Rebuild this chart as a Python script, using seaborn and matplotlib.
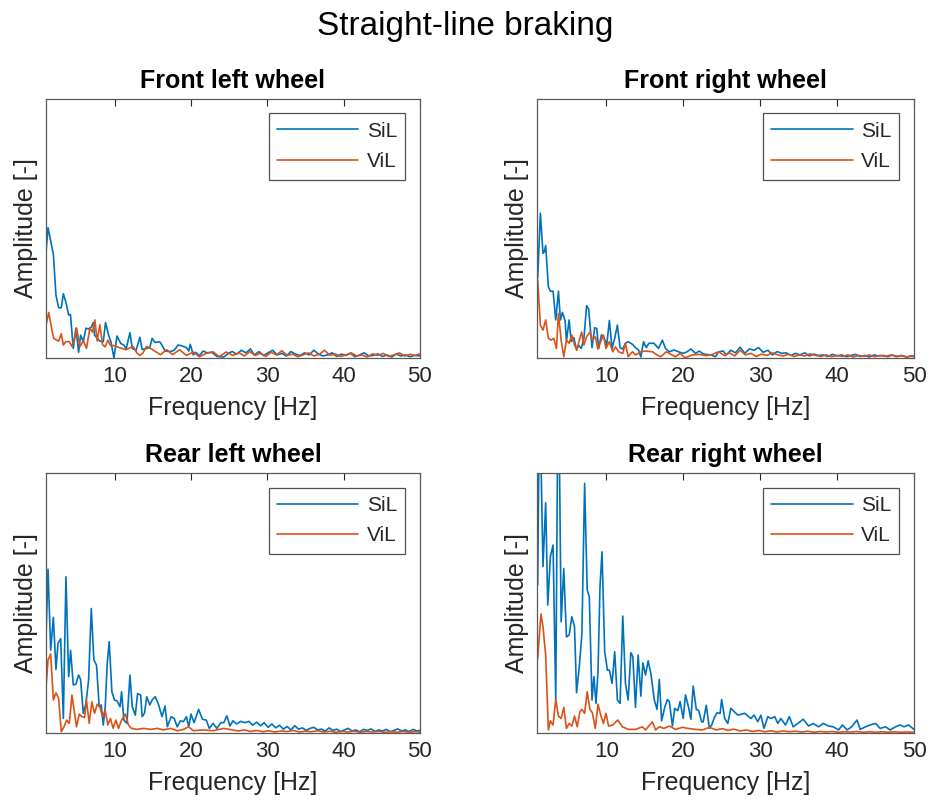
import numpy as np
import pandas as pd
import matplotlib
matplotlib.use("Agg")
import matplotlib.pyplot as plt
import seaborn as sns

# Amplitude spectra, (frequency [Hz], amplitude [-]) pairs
fl_sil = [(1.0, 0.41), (1.26, 0.503), (1.96, 0.40), (2.3, 0.243), (2.65, 0.194), (3.0, 0.194),
          (3.27, 0.248), (3.61, 0.215), (3.96, 0.166), (4.2, 0.168), (4.57, 0.037), (4.92, 0.115),
          (5.27, 0.022), (5.53, 0.088), (5.88, 0.063), (6.23, 0.115), (6.58, 0.112), (6.93, 0.119),
          (7.19, 0.137), (7.36, 0.088), (8.06, 0.065), (8.5, 0.063), (8.8, 0.137), (9.2, 0.088),
          (9.5, 0.063), (9.9, 0.0), (10.3, 0.085), (10.8, 0.056), (11.2, 0.05), (11.5, 0.035),
          (12.0, 0.098), (12.3, 0.037), (12.8, 0.03), (13.3, 0.08), (13.6, 0.033), (14.2, 0.037),
          (14.6, 0.04), (14.9, 0.076), (15.3, 0.06), (15.9, 0.063), (16.25, 0.047), (16.6, 0.027),
          (17.3, 0.025), (17.8, 0.03), (18.3, 0.05), (18.8, 0.047), (19.4, 0.04), (19.7, 0.027),
          (19.9, 0.053), (20.3, 0.012), (20.6, 0.022), (21.1, 0.009), (21.6, 0.027), (22.1, 0.02),
          (22.7, 0.022), (23.4, 0.006), (24.3, 0.004), (25.0, 0.02), (25.4, 0.025), (26.0, 0.015),
          (26.6, 0.03), (27.2, 0.02), (27.8, 0.035), (28.3, 0.012), (28.9, 0.025), (29.5, 0.01),
          (30.1, 0.02), (30.7, 0.03), (31.3, 0.012), (31.9, 0.018), (32.5, 0.008), (33.1, 0.025),
          (33.7, 0.015), (34.3, 0.01), (34.9, 0.02), (35.5, 0.012), (36.1, 0.03), (36.7, 0.015),
          (37.3, 0.008), (37.9, 0.012), (38.5, 0.02), (39.1, 0.006), (39.7, 0.015), (40.3, 0.01),
          (40.9, 0.018), (41.5, 0.005), (42.1, 0.012), (42.7, 0.02), (43.3, 0.008), (43.9, 0.01),
          (44.5, 0.016), (45.1, 0.006), (45.7, 0.012), (46.3, 0.004), (46.9, 0.015), (47.5, 0.008),
          (48.1, 0.012), (48.7, 0.005), (49.3, 0.01), (50.0, 0.008)]
fl_vil = [(1.0, 0.127), (1.35, 0.176), (1.8, 0.104), (2.0, 0.076), (2.65, 0.065), (3.0, 0.094),
          (3.27, 0.05), (3.6, 0.063), (4.05, 0.063), (4.4, 0.045), (4.7, 0.07), (5.0, 0.116),
          (5.44, 0.044), (5.9, 0.067), (6.3, 0.037), (6.75, 0.116), (7.1, 0.1), (7.4, 0.147),
          (7.7, 0.066), (8.06, 0.128), (8.4, 0.052), (8.75, 0.043), (9.1, 0.069), (9.45, 0.048),
          (9.9, 0.048), (10.7, 0.039), (11.5, 0.032), (12.4, 0.045), (12.9, 0.02), (13.3, 0.01),
          (13.7, 0.02), (14.2, 0.045), (14.6, 0.039), (15.3, 0.026), (16.0, 0.013), (16.8, 0.032),
          (17.6, 0.013), (18.5, 0.032), (19.4, 0.01), (20.3, 0.023), (21.1, 0.005), (22.0, 0.018),
          (22.9, 0.024), (23.7, 0.005), (24.6, 0.023), (25.5, 0.01), (26.3, 0.02), (27.0, 0.008),
          (27.7, 0.025), (28.4, 0.01), (29.1, 0.018), (29.8, 0.006), (30.5, 0.022), (31.2, 0.012),
          (31.9, 0.028), (32.6, 0.01), (33.3, 0.015), (34.0, 0.005), (34.7, 0.012), (35.4, 0.02),
          (36.1, 0.008), (36.8, 0.014), (37.5, 0.03), (38.2, 0.01), (38.9, 0.016), (39.6, 0.006),
          (40.3, 0.012), (41.0, 0.02), (41.7, 0.008), (42.4, 0.012), (43.1, 0.004), (43.8, 0.016),
          (44.5, 0.01), (45.2, 0.018), (45.9, 0.006), (46.6, 0.012), (47.3, 0.02), (48.0, 0.008),
          (48.7, 0.014), (49.4, 0.01), (50.0, 0.016)]

fr_sil = [(1.09, 0.308), (1.44, 0.559), (1.78, 0.404), (1.96, 0.41), (2.13, 0.434), (2.48, 0.275),
          (2.74, 0.258), (3.09, 0.258), (3.44, 0.147), (3.79, 0.258), (4.05, 0.147), (4.31, 0.176),
          (4.66, 0.143), (4.83, 0.066), (5.18, 0.147), (5.44, 0.063), (5.79, 0.079), (6.14, 0.031),
          (6.4, 0.05), (6.75, 0.037), (7.1, 0.076), (7.45, 0.202), (7.71, 0.19), (8.15, 0.04),
          (8.5, 0.117), (8.76, 0.114), (9.02, 0.037), (9.37, 0.089), (9.71, 0.079), (10.06, 0.05),
          (10.41, 0.145), (10.76, 0.037), (11.1, 0.076), (11.45, 0.127), (11.8, 0.04), (12.15, 0.035),
          (12.5, 0.057), (12.85, 0.063), (13.4, 0.053), (13.8, 0.04), (14.2, 0.031), (14.5, 0.004),
          (14.85, 0.063), (15.2, 0.04), (15.55, 0.057), (16.2, 0.057), (16.8, 0.037), (17.3, 0.069),
          (17.7, 0.037), (18.2, 0.024), (18.8, 0.031), (19.4, 0.024), (20.0, 0.018), (20.5, 0.024),
          (21.0, 0.035), (21.6, 0.018), (22.1, 0.027), (22.5, 0.018), (22.9, 0.014), (23.6, 0.012),
          (24.2, 0.005), (24.6, 0.024), (25.2, 0.027), (25.6, 0.012), (26.2, 0.03), (26.8, 0.02),
          (27.4, 0.042), (28.0, 0.018), (28.6, 0.035), (29.2, 0.03), (29.8, 0.04), (30.4, 0.022),
          (31.0, 0.03), (31.6, 0.012), (32.2, 0.025), (32.8, 0.018), (33.4, 0.02), (34.0, 0.01),
          (34.6, 0.018), (35.2, 0.012), (35.8, 0.02), (36.4, 0.008), (37.0, 0.015), (37.6, 0.01),
          (38.2, 0.012), (38.8, 0.006), (39.4, 0.014), (40.0, 0.008), (40.6, 0.012), (41.2, 0.005),
          (41.8, 0.01), (42.4, 0.014), (43.0, 0.006), (43.6, 0.01), (44.2, 0.004), (44.8, 0.012),
          (45.4, 0.008), (46.0, 0.01), (46.6, 0.005), (47.2, 0.012), (47.8, 0.006), (48.4, 0.01),
          (49.0, 0.004), (49.6, 0.008), (50.0, 0.005)]
fr_vil = [(1.09, 0.301), (1.26, 0.217), (1.44, 0.127), (1.78, 0.108), (2.13, 0.147), (2.48, 0.076),
          (2.83, 0.069), (3.18, 0.076), (3.53, 0.037), (3.79, 0.172), (4.14, 0.069), (4.48, 0.005),
          (4.83, 0.069), (5.18, 0.057), (5.53, 0.089), (5.88, 0.05), (6.2, 0.031), (6.5, 0.069),
          (6.8, 0.1), (7.1, 0.05), (7.45, 0.082), (7.9, 0.1), (8.2, 0.069), (8.6, 0.082),
          (8.9, 0.035), (9.28, 0.063), (9.63, 0.089), (9.97, 0.037), (10.4, 0.063), (10.85, 0.024),
          (11.2, 0.043), (11.6, 0.024), (12.15, 0.018), (12.5, 0.057), (12.85, 0.005), (13.4, 0.024),
          (13.8, 0.012), (14.5, 0.024), (15.1, 0.027), (16.0, 0.024), (16.6, 0.012), (17.1, 0.005),
          (17.8, 0.024), (18.4, 0.014), (19.0, 0.005), (19.6, 0.018), (20.2, 0.001), (21.2, 0.012),
          (22.1, 0.014), (23.0, 0.009), (23.8, 0.014), (24.6, 0.024), (25.4, 0.009), (26.0, 0.02),
          (26.7, 0.008), (27.4, 0.03), (28.1, 0.012), (28.8, 0.018), (29.5, 0.006), (30.2, 0.015),
          (30.9, 0.01), (31.6, 0.02), (32.3, 0.012), (33.0, 0.008), (33.7, 0.015), (34.4, 0.006),
          (35.1, 0.012), (35.8, 0.008), (36.5, 0.016), (37.2, 0.01), (37.9, 0.006), (38.6, 0.012),
          (39.3, 0.005), (40.0, 0.01), (40.7, 0.006), (41.4, 0.012), (42.1, 0.004), (42.8, 0.01),
          (43.5, 0.007), (44.2, 0.012), (44.9, 0.005), (45.6, 0.01), (46.3, 0.006), (47.0, 0.012),
          (47.7, 0.005), (48.4, 0.009), (49.1, 0.004), (50.0, 0.008)]

rl_sil = [(1.0, 0.37), (1.26, 0.63), (1.61, 0.319), (1.96, 0.445), (2.3, 0.245), (2.57, 0.345),
          (2.92, 0.363), (3.27, 0.056), (3.61, 0.601), (3.96, 0.217), (4.22, 0.318), (4.57, 0.185),
          (4.92, 0.188), (5.27, 0.223), (5.53, 0.206), (5.88, 0.076), (6.23, 0.114), (6.58, 0.204),
          (6.93, 0.479), (7.27, 0.281), (7.62, 0.261), (7.97, 0.101), (8.23, 0.108), (8.5, 0.031),
          (8.76, 0.101), (9.02, 0.268), (9.28, 0.351), (9.63, 0.159), (9.97, 0.127), (10.3, 0.124),
          (10.7, 0.101), (10.9, 0.159), (11.2, 0.05), (11.6, 0.037), (12.0, 0.223), (12.3, 0.101),
          (12.7, 0.069), (13.0, 0.152), (13.4, 0.146), (13.6, 0.063), (13.9, 0.076), (14.2, 0.14),
          (14.6, 0.108), (14.9, 0.127), (15.3, 0.14), (15.7, 0.114), (16.2, 0.063), (16.6, 0.104),
          (16.9, 0.024), (17.4, 0.063), (17.8, 0.056), (18.2, 0.024), (18.6, 0.047), (19.0, 0.044),
          (19.4, 0.063), (19.7, 0.024), (20.0, 0.073), (20.4, 0.04), (21.0, 0.091), (21.5, 0.053),
          (22.0, 0.05), (22.4, 0.018), (22.9, 0.037), (23.4, 0.018), (23.9, 0.04), (24.3, 0.04),
          (24.7, 0.066), (25.1, 0.027), (25.5, 0.047), (26.0, 0.035), (26.5, 0.045), (27.0, 0.04),
          (27.6, 0.045), (28.1, 0.03), (28.6, 0.042), (29.1, 0.028), (29.6, 0.04), (30.1, 0.022),
          (30.6, 0.035), (31.1, 0.02), (31.6, 0.03), (32.1, 0.015), (32.6, 0.025), (33.1, 0.012),
          (33.6, 0.028), (34.1, 0.015), (34.6, 0.02), (35.1, 0.01), (35.6, 0.018), (36.1, 0.022),
          (36.6, 0.012), (37.1, 0.015), (37.6, 0.008), (38.1, 0.02), (38.6, 0.01), (39.1, 0.015),
          (39.6, 0.006), (40.1, 0.012), (40.6, 0.018), (41.1, 0.008), (41.6, 0.012), (42.1, 0.005),
          (42.6, 0.014), (43.1, 0.01), (43.6, 0.016), (44.1, 0.006), (44.6, 0.012), (45.1, 0.008),
          (45.6, 0.014), (46.1, 0.005), (46.6, 0.01), (47.1, 0.016), (47.6, 0.008), (48.1, 0.012),
          (48.6, 0.006), (49.1, 0.014), (49.6, 0.008), (50.0, 0.01)]
rl_vil = [(1.0, 0.178), (1.26, 0.281), (1.61, 0.304), (1.96, 0.127), (2.3, 0.155), (2.65, 0.133),
          (3.0, 0.005), (3.35, 0.024), (3.7, 0.05), (4.05, 0.037), (4.4, 0.146), (4.74, 0.076),
          (5.0, 0.024), (5.35, 0.073), (5.7, 0.063), (6.05, 0.06), (6.3, 0.127), (6.66, 0.037),
          (7.0, 0.12), (7.36, 0.076), (7.71, 0.111), (8.06, 0.101), (8.4, 0.063), (8.76, 0.088),
          (9.1, 0.031), (9.45, 0.056), (9.8, 0.018), (10.15, 0.05), (10.5, 0.018), (10.9, 0.05),
          (11.4, 0.073), (11.8, 0.031), (12.2, 0.018), (12.9, 0.014), (13.8, 0.018), (14.7, 0.014),
          (15.6, 0.018), (16.4, 0.012), (17.3, 0.018), (18.2, 0.009), (19.0, 0.014), (19.7, 0.024),
          (20.3, 0.009), (21.6, 0.012), (22.9, 0.009), (24.3, 0.018), (25.4, 0.012), (26.2, 0.008),
          (27.0, 0.012), (27.8, 0.006), (28.6, 0.01), (29.4, 0.005), (30.2, 0.009), (31.0, 0.004),
          (31.8, 0.008), (32.6, 0.006), (33.4, 0.01), (34.2, 0.004), (35.0, 0.007), (35.8, 0.005),
          (36.6, 0.009), (37.4, 0.004), (38.2, 0.007), (39.0, 0.003), (39.8, 0.006), (40.6, 0.004),
          (41.4, 0.007), (42.2, 0.003), (43.0, 0.006), (43.8, 0.004), (44.6, 0.006), (45.4, 0.003),
          (46.2, 0.005), (47.0, 0.003), (47.8, 0.006), (48.6, 0.003), (49.4, 0.005), (50.0, 0.004)]

rr_sil = [(1.09, 0.569), (1.26, 1.1), (1.52, 1.05), (1.78, 0.64), (2.13, 0.886), (2.4, 0.492),
          (2.74, 0.678), (3.09, 0.723), (3.44, 0.127), (3.7, 1.2), (3.9, 1.1), (4.14, 0.428),
          (4.48, 0.633), (4.83, 0.37), (5.18, 0.377), (5.53, 0.447), (5.88, 0.409), (6.14, 0.155),
          (6.5, 0.255), (6.84, 0.383), (7.19, 0.96), (7.53, 0.55), (7.8, 0.524), (8.15, 0.127),
          (8.4, 0.217), (8.67, 0.114), (8.93, 0.236), (9.19, 0.563), (9.45, 0.697), (9.8, 0.313),
          (10.15, 0.242), (10.41, 0.242), (10.76, 0.191), (11.1, 0.313), (11.45, 0.127), (11.8, 0.114),
          (12.15, 0.45), (12.5, 0.191), (12.85, 0.127), (13.2, 0.309), (13.46, 0.294), (13.8, 0.099),
          (14.15, 0.3), (14.5, 0.142), (14.76, 0.27), (15.1, 0.223), (15.45, 0.278), (15.8, 0.229),
          (16.25, 0.127), (16.6, 0.091), (16.9, 0.206), (17.2, 0.047), (17.6, 0.099), (17.95, 0.129),
          (18.2, 0.121), (18.6, 0.027), (18.9, 0.095), (19.3, 0.086), (19.6, 0.121), (20.0, 0.056),
          (20.3, 0.147), (20.7, 0.099), (21.0, 0.053), (21.3, 0.181), (21.7, 0.091), (22.0, 0.088),
          (22.4, 0.043), (22.6, 0.043), (23.0, 0.107), (23.4, 0.018), (23.7, 0.031), (24.1, 0.063),
          (24.4, 0.078), (24.8, 0.076), (25.0, 0.129), (25.4, 0.056), (25.8, 0.037), (26.2, 0.095),
          (27.1, 0.069), (28.0, 0.076), (28.8, 0.056), (29.2, 0.069), (29.7, 0.044), (30.1, 0.069),
          (30.5, 0.018), (31.0, 0.063), (31.4, 0.056), (31.9, 0.063), (32.3, 0.037), (32.7, 0.056),
          (33.3, 0.031), (33.8, 0.063), (34.3, 0.024), (34.9, 0.037), (35.6, 0.053), (36.3, 0.027),
          (36.9, 0.037), (37.6, 0.024), (38.2, 0.037), (38.9, 0.027), (39.5, 0.024), (40.2, 0.012),
          (40.7, 0.031), (41.3, 0.012), (41.9, 0.024), (42.6, 0.05), (43.0, 0.014), (43.7, 0.024),
          (44.3, 0.031), (45.0, 0.037), (45.6, 0.018), (46.3, 0.024), (46.9, 0.012), (47.6, 0.024),
          (48.2, 0.031), (48.7, 0.024), (49.3, 0.031), (50.0, 0.014)]
rr_vil = [(1.09, 0.287), (1.52, 0.458), (1.78, 0.409), (2.13, 0.3), (2.48, 0.012), (2.74, 0.047),
          (3.09, 0.031), (3.44, 0.129), (3.79, 0.065), (4.14, 0.056), (4.48, 0.099), (4.83, 0.018),
          (5.18, 0.037), (5.53, 0.027), (5.88, 0.065), (6.23, 0.024), (6.58, 0.082), (6.84, 0.091),
          (7.19, 0.076), (7.53, 0.159), (7.88, 0.091), (8.2, 0.078), (8.58, 0.018), (8.93, 0.111),
          (9.28, 0.069), (9.63, 0.037), (9.97, 0.076), (10.3, 0.027), (10.85, 0.031), (11.5, 0.05),
          (12.1, 0.024), (12.9, 0.014), (13.8, 0.014), (14.7, 0.024), (15.1, 0.012), (16.0, 0.043),
          (16.4, 0.012), (16.9, 0.024), (17.5, 0.018), (18.2, 0.027), (19.0, 0.014), (19.9, 0.022),
          (20.6, 0.018), (21.6, 0.014), (22.5, 0.012), (23.4, 0.022), (24.3, 0.012), (25.1, 0.017),
          (25.8, 0.01), (26.6, 0.015), (27.4, 0.008), (28.2, 0.012), (29.0, 0.006), (29.8, 0.01),
          (30.6, 0.005), (31.4, 0.009), (32.2, 0.004), (33.0, 0.008), (33.8, 0.005), (34.6, 0.007),
          (35.4, 0.004), (36.2, 0.007), (37.0, 0.003), (37.8, 0.006), (38.6, 0.004), (39.4, 0.006),
          (40.2, 0.003), (41.0, 0.005), (41.8, 0.004), (42.6, 0.006), (43.4, 0.003), (44.2, 0.005),
          (45.0, 0.003), (45.8, 0.005), (46.6, 0.003), (47.4, 0.005), (48.2, 0.003), (49.0, 0.004),
          (50.0, 0.003)]

panel_titles = ["Front left wheel", "Front right wheel", "Rear left wheel", "Rear right wheel"]
panel_data = [(fl_sil, fl_vil), (fr_sil, fr_vil), (rl_sil, rl_vil), (rr_sil, rr_vil)]
series_names = ["SiL", "ViL"]
series_colors = ["#0072BD", "#D95319"]
x_ticks = [10, 20, 30, 40, 50]

sns.set_style("white")
plt.rcParams["font.family"] = ["Liberation Sans", "DejaVu Sans"]

fig = plt.figure(figsize=(9.3, 8.1), dpi=100)
rects = [[0.0495, 0.558, 0.402, 0.320], [0.5774, 0.558, 0.4054, 0.320],
         [0.0495, 0.095, 0.402, 0.321], [0.5774, 0.095, 0.4054, 0.321]]
edge = "#262626"

for rect, title, (sil, vil) in zip(rects, panel_titles, panel_data):
    ax = fig.add_axes(rect)
    for pts, name, col in zip((sil, vil), series_names, series_colors):
        df = pd.DataFrame(pts, columns=["f", "a"])
        sns.lineplot(data=df, x="f", y="a", ax=ax, color=col, lw=1.2,
                     label=name, estimator=None, sort=False)
    ax.set_xlim(1, 50)
    ax.set_ylim(0, 1)
    ax.set_xticks(x_ticks)
    ax.set_yticks([])
    ax.tick_params(axis="x", direction="in", top=True, length=5, width=0.8,
                   labelsize=16, colors=edge, pad=6)
    for s in ax.spines.values():
        s.set_color("#5a5a5a")
        s.set_linewidth(0.9)
    ax.set_xlabel("Frequency [Hz]", fontsize=18, color=edge, labelpad=6)
    ax.set_ylabel("Amplitude [-]", fontsize=18, color=edge, labelpad=6)
    ax.set_title(title, fontsize=18, fontweight="bold", color="black", pad=8)
    leg = ax.legend(loc="upper right", fontsize=15, frameon=True, fancybox=False,
                    handlelength=3.9, borderaxespad=0.7, borderpad=0.4,
                    labelspacing=0.55, handletextpad=0.4)
    leg.get_frame().set_edgecolor(edge)
    leg.get_frame().set_linewidth(0.9)

fig.suptitle("Straight-line braking", fontsize=24, y=0.967, va="center", color="black")
fig.savefig("out.png", dpi=100)
